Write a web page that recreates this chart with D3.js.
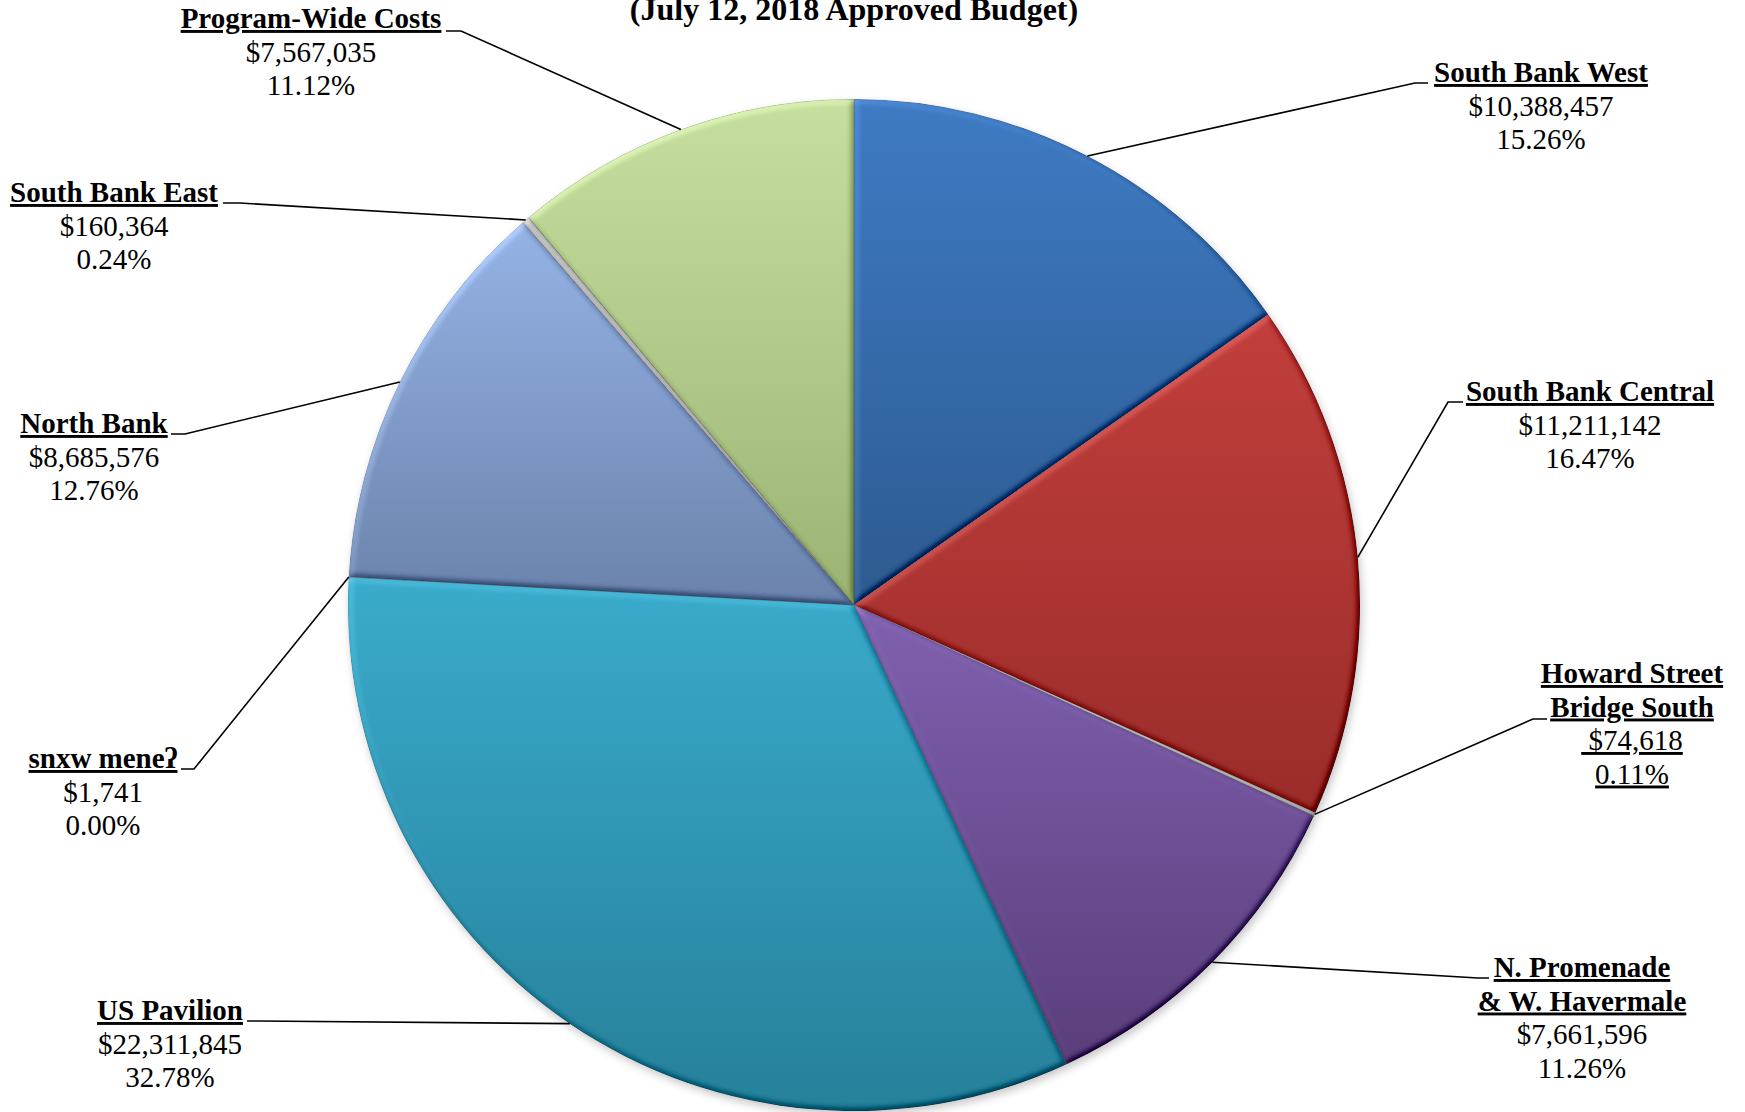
<!DOCTYPE html>
<html>
<head>
<meta charset="utf-8">
<script src="https://cdn.jsdelivr.net/npm/d3@7"></script>
<style>
  html, body { margin: 0; padding: 0; background: #ffffff; }
  svg { display: block; }
  text { font-family: "Liberation Serif", "Times New Roman", "DejaVu Serif", serif; fill: #000; }
</style>
</head>
<body>
<svg id="chart" width="1745" height="1112"></svg>
<script>
// Budget allocation by project area, clockwise from 12 o'clock
const categories = [
  "South Bank West",
  "South Bank Central",
  "Howard Street Bridge South",
  "N. Promenade & W. Havermale",
  "US Pavilion",
  "snxw meneʔ",
  "North Bank",
  "South Bank East",
  "Program-Wide Costs"
];
const amounts = [10388457, 11211142, 74618, 7661596, 22311845, 1741, 8685576, 160364, 7567035];
const nameLines = [
  ["South Bank West"],
  ["South Bank Central"],
  ["Howard Street", "Bridge South"],
  ["N. Promenade", "& W. Havermale"],
  ["US Pavilion"],
  ["snxw meneʔ"],
  ["North Bank"],
  ["South Bank East"],
  ["Program-Wide Costs"]
];
const titleText = "(July 12, 2018 Approved Budget)";

// Slice fills: lighter at the top of each slice, darker at the bottom
const topColors    = ["#3e7bc4", "#c13f3c", "#d4d4d4", "#7f61b0", "#3aabcc", "#f59a4a", "#95b3e6", "#c4c4c4", "#c7df9e"];
const bottomColors = ["#2d5a90", "#9a2c2a", "#a8a8a8", "#5a3e7a", "#26809a", "#c06a20", "#6b83ab", "#9a9a9a", "#9bb474"];

// Label placement: centre x, first baseline, leader attach point and elbow
const labelLayout = [
  { cx: 1541, y: 82,   attachX: 1428, attachY: 83,   elbowX: 1415, underlineAll: false },
  { cx: 1590, y: 401,  attachX: 1463, attachY: 402,  elbowX: 1448, underlineAll: false },
  { cx: 1632, y: 683,  attachX: 1547, attachY: 719,  elbowX: 1533, underlineAll: true  },
  { cx: 1582, y: 977,  attachX: 1489, attachY: 978,  elbowX: 1478, underlineAll: false },
  { cx: 170,  y: 1020, attachX: 247,  attachY: 1021, elbowX: 258,  underlineAll: false },
  { cx: 103,  y: 768,  attachX: 181,  attachY: 769,  elbowX: 194,  underlineAll: false },
  { cx: 94,   y: 433,  attachX: 171,  attachY: 434,  elbowX: 185,  underlineAll: false },
  { cx: 114,  y: 202,  attachX: 223,  attachY: 203,  elbowX: 240,  underlineAll: false },
  { cx: 311,  y: 28,   attachX: 446,  attachY: 31,   elbowX: 461,  underlineAll: false }
];

const W = 1745, H = 1112;
const cx = 854, cy = 605, radius = 506;
const fontSize = 29, lineStep = 33.5;

const svg = d3.select("#chart");
const defs = svg.append("defs");

// Per-slice vertical gradients
categories.forEach((c, i) => {
  const g = defs.append("linearGradient")
    .attr("id", "grad" + i)
    .attr("x1", 0).attr("y1", 0).attr("x2", 0).attr("y2", 1);
  g.append("stop").attr("offset", "0%").attr("stop-color", topColors[i]);
  g.append("stop").attr("offset", "100%").attr("stop-color", bottomColors[i]);
});

// Bevel: diffuse lighting on the blurred slice outline, lit from the upper left.
// Slices live in a group centred on the pie, so the filter region is in that frame.
const bevel = defs.append("filter")
  .attr("id", "bevel")
  .attr("filterUnits", "userSpaceOnUse")
  .attr("x", -cx).attr("y", -cy).attr("width", W).attr("height", H)
  .attr("color-interpolation-filters", "sRGB");
bevel.append("feGaussianBlur").attr("in", "SourceAlpha").attr("stdDeviation", 3).attr("result", "blur");
const light = bevel.append("feDiffuseLighting")
  .attr("in", "blur").attr("surfaceScale", 3).attr("diffuseConstant", 1)
  .attr("lighting-color", "#ffffff").attr("result", "light");
light.append("feDistantLight").attr("azimuth", 225).attr("elevation", 55);
const flat = Math.sin(55 * Math.PI / 180), kLight = 0.55;
bevel.append("feComposite").attr("in", "SourceGraphic").attr("in2", "light")
  .attr("operator", "arithmetic")
  .attr("k1", 0).attr("k2", 1).attr("k3", kLight).attr("k4", -kLight * flat)
  .attr("result", "lit");
bevel.append("feComposite").attr("in", "lit").attr("in2", "SourceAlpha").attr("operator", "in");

// Soft shadow under the pie
const shadow = defs.append("filter")
  .attr("id", "shadow")
  .attr("filterUnits", "userSpaceOnUse")
  .attr("x", -cx).attr("y", -cy).attr("width", W).attr("height", H);
shadow.append("feGaussianBlur").attr("stdDeviation", 4);

const pie = d3.pie().sort(null).value(d => d)(amounts);
const arc = d3.arc().innerRadius(0).outerRadius(radius);
const edgeArc = d3.arc().innerRadius(radius).outerRadius(radius);
const total = d3.sum(amounts);
const fmtMoney = d3.format("$,");
const fmtPct = d3.format(".2%");

const g = svg.append("g").attr("transform", `translate(${cx},${cy})`);

g.append("circle")
  .attr("cx", 2).attr("cy", 4).attr("r", radius)
  .attr("fill", "rgba(0,0,0,0.22)")
  .attr("filter", "url(#shadow)");

g.selectAll("path.slice")
  .data(pie)
  .join("path")
  .attr("class", "slice")
  .attr("d", arc)
  .attr("fill", (d, i) => `url(#grad${i})`)
  .attr("stroke", "rgba(40,40,40,0.35)")
  .attr("stroke-width", 0.6)
  .attr("filter", "url(#bevel)");

// Title line
svg.append("text")
  .attr("x", cx).attr("y", 20)
  .attr("text-anchor", "middle")
  .attr("font-weight", "bold")
  .attr("font-size", 32)
  .text(titleText);

// Leader lines from slice mid-arc to label
const leaders = svg.append("g")
  .attr("fill", "none")
  .attr("stroke", "#000")
  .attr("stroke-width", 1.6);

pie.forEach((d, i) => {
  const L = labelLayout[i];
  const [px, py] = edgeArc.centroid(d);
  leaders.append("path")
    .attr("d", d3.line()([[cx + px, cy + py], [L.elbowX, L.attachY], [L.attachX, L.attachY]]));
});

// Labels: bold underlined name, amount, share
const labels = svg.append("g").attr("font-size", fontSize).attr("text-anchor", "middle");
pie.forEach((d, i) => {
  const L = labelLayout[i];
  let y = L.y;
  nameLines[i].forEach(line => {
    labels.append("text")
      .attr("x", L.cx).attr("y", y)
      .attr("font-weight", "bold")
      .style("text-decoration", "underline")
      .text(line);
    y += lineStep;
  });
  const money = labels.append("text")
    .attr("x", L.cx).attr("y", y)
    .style("white-space", "pre")
    .text(L.underlineAll ? " " + fmtMoney(d.data) : fmtMoney(d.data));
  y += lineStep;
  const pct = labels.append("text")
    .attr("x", L.cx).attr("y", y)
    .text(fmtPct(d.data / total));
  if (L.underlineAll) {
    money.style("text-decoration", "underline");
    pct.style("text-decoration", "underline");
  }
});
</script>
</body>
</html>
